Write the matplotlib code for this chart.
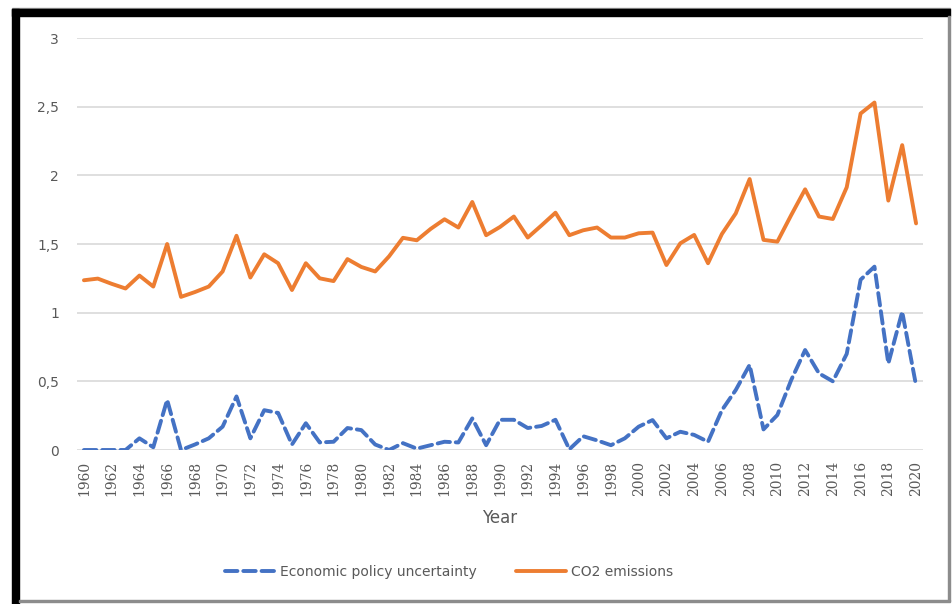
import matplotlib.pyplot as plt
from matplotlib.patches import Rectangle
from matplotlib.ticker import FuncFormatter

years = list(range(1960, 2021))

epu = [0, 0, 0, 0, 0.085, 0.02, 0.365, 0, 0.04, 0.085,
       0.17, 0.39, 0.085, 0.29, 0.27, 0.04, 0.195, 0.055, 0.06, 0.16,
       0.145, 0.04, 0.0, 0.05, 0.01, 0.035, 0.06, 0.055, 0.23, 0.035,
       0.22, 0.22, 0.16, 0.175, 0.22, 0.005, 0.10, 0.07, 0.035, 0.085,
       0.17, 0.218, 0.085, 0.133, 0.11, 0.06, 0.29, 0.437, 0.62, 0.15,
       0.255, 0.51, 0.728, 0.558, 0.50, 0.70, 1.24, 1.335, 0.63, 1.007,
       0.47]

co2 = [1.236, 1.248, 1.21, 1.176, 1.27, 1.19, 1.50, 1.115, 1.15, 1.19,
       1.30, 1.56, 1.256, 1.425, 1.36, 1.165, 1.36, 1.25, 1.23, 1.39,
       1.333, 1.30, 1.41, 1.545, 1.527, 1.61, 1.68, 1.62, 1.806, 1.564,
       1.624, 1.70, 1.547, 1.636, 1.728, 1.564, 1.60, 1.62, 1.547, 1.547,
       1.578, 1.583, 1.347, 1.505, 1.566, 1.36, 1.573, 1.723, 1.973, 1.53,
       1.517, 1.711, 1.898, 1.70, 1.682, 1.913, 2.45, 2.53, 1.816, 2.22,
       1.65]

W, H = 952, 604
fig = plt.figure(figsize=(W / 100, H / 100), dpi=100)

# picture frame: thick black top/left, thin grey right/bottom
def px_rect(x0, y0, x1, y1, color):
    fig.patches.append(Rectangle((x0 / W, 1 - y1 / H), (x1 - x0) / W, (y1 - y0) / H,
                                 transform=fig.transFigure, color=color, zorder=0))

px_rect(12, 8, 950, 9, '#9a9a9a')
px_rect(12, 9, 950, 16, 'black')
px_rect(12, 9, 19, 604, 'black')
px_rect(948, 16, 950, 601, '#8c8c8c')
px_rect(19, 600, 950, 601.5, '#8c8c8c')

ax = fig.add_axes([77 / W, 1 - 450 / H, (923 - 77) / W, (450 - 38) / H])
ax.set_facecolor('none')

ax.plot(years, epu, color='#4472C4', lw=2.8, dashes=(3.2, 1.5),
        dash_capstyle='round', label='Economic policy uncertainty', zorder=3)
ax.plot(years, co2, color='#ED7D31', lw=2.8, solid_capstyle='round',
        label='CO2 emissions', zorder=3)

ax.set_xlim(1959.5, 2020.5)
ax.set_ylim(0, 3)
ax.set_yticks([0, 0.5, 1, 1.5, 2, 2.5, 3])
ax.yaxis.set_major_formatter(FuncFormatter(lambda v, p: ('%g' % v).replace('.', ',')))
ax.set_xticks(years[::2])
ax.set_xticklabels([str(y) for y in years[::2]], rotation=90,
                   family='DejaVu Serif', fontsize=10, color='#595959')
for lab in ax.get_yticklabels():
    lab.set_fontsize(10)
    lab.set_color('#595959')
ax.tick_params(length=0)
ax.tick_params(axis='y', pad=13)
ax.tick_params(axis='x', pad=8)
ax.grid(axis='y', color='#d9d9d9', lw=1.2)
ax.set_axisbelow(True)
for s in ax.spines.values():
    s.set_visible(False)

fig.text(500 / W, 1 - 518 / H, 'Year', ha='center', va='center',
         fontsize=12, color='#595959')

fig.legend(loc='center', bbox_to_anchor=(449 / W, 1 - 572 / H), ncol=2,
           frameon=False, fontsize=10, labelcolor='#595959',
           handlelength=3.6, handletextpad=0.4, columnspacing=2.8)

fig.savefig('out.png', dpi=100)
